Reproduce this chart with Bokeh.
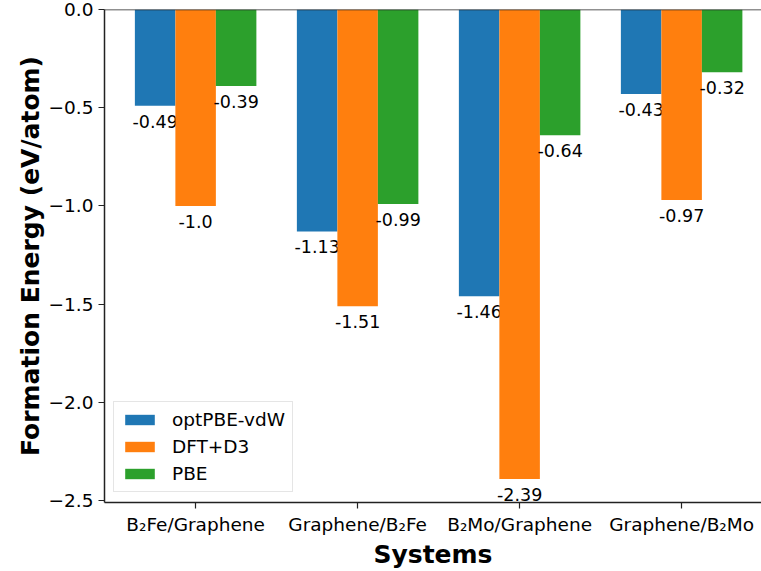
from bokeh.plotting import figure
from bokeh.models import ColumnDataSource, FixedTicker, Range1d, Legend, LegendItem, Span
from bokeh.embed import file_html
from bokeh.resources import INLINE

# Formation energies (eV/atom) for each heterostructure
systems = ["B\u2082Fe/Graphene", "Graphene/B\u2082Fe", "B\u2082Mo/Graphene", "Graphene/B\u2082Mo"]
opt_pbe_vdw = [-0.49, -1.13, -1.46, -0.43]
dft_d3 = [-1.0, -1.51, -2.39, -0.97]
pbe = [-0.39, -0.99, -0.64, -0.32]

series_names = ["optPBE-vdW", "DFT+D3", "PBE"]
series_values = [opt_pbe_vdw, dft_d3, pbe]
colors = ["#1f77b4", "#ff7f0e", "#2ca02c"]
bar_width = 0.25
offsets = [-bar_width, 0.0, bar_width]

y_ticks = [0.0, -0.5, -1.0, -1.5, -2.0, -2.5]

FONT = "DejaVu Sans"
TICK_SIZE = "18.5px"
LABEL_SIZE = "25px"

p = figure(
    width=761, height=571,
    output_backend="svg", toolbar_location=None,
    x_range=Range1d(-0.5625, 3.493), y_range=Range1d(-2.5095, 0.0),
    min_border_left=104, min_border_right=0, min_border_top=9, min_border_bottom=67,
)
p.outline_line_color = None
p.grid.visible = False
p.background_fill_color = "white"
p.border_fill_color = "white"

renderers = []
for name, vals, col, off in zip(series_names, series_values, colors, offsets):
    xs = [i + off for i in range(len(systems))]
    src = ColumnDataSource(dict(
        x=xs, top=[0.0] * len(vals), bottom=vals,
        label=[str(v) for v in vals],
    ))
    r = p.vbar(x="x", width=bar_width, top="top", bottom="bottom", source=src,
               fill_color=col, line_color=None)
    renderers.append((name, r))
    # value annotation just below each bar end
    p.text(x="x", y="bottom", text="label", source=src,
           text_align="center", text_baseline="top", y_offset=9,
           text_font={"value": FONT}, text_font_size="17.5px", text_color="black")

# top spine
p.add_layout(Span(location=0.0, dimension="width", line_color="#222222", line_width=1.5))

# axes
p.xaxis.ticker = FixedTicker(ticks=list(range(len(systems))))
p.xaxis.major_label_overrides = {i: s for i, s in enumerate(systems)}
p.yaxis.ticker = FixedTicker(ticks=y_ticks)
p.yaxis.major_label_overrides = {t: ("%.1f" % t).replace("-", "\u2212") for t in y_ticks}

for ax in (p.xaxis[0], p.yaxis[0]):
    ax.axis_line_color = "#222222"
    ax.axis_line_width = 1.5
    ax.major_tick_line_color = "#222222"
    ax.major_tick_line_width = 1.2
    ax.major_tick_out = 6
    ax.major_tick_in = 0
    ax.minor_tick_line_color = None
    ax.major_label_text_font = FONT
    ax.major_label_text_font_size = TICK_SIZE
    ax.major_label_text_color = "black"
    ax.axis_label_text_font = FONT
    ax.axis_label_text_font_size = LABEL_SIZE
    ax.axis_label_text_font_style = "bold"
    ax.axis_label_text_color = "black"

p.xaxis.axis_label = "Systems"
p.xaxis.major_label_standoff = 5
p.xaxis.axis_label_standoff = 2
p.yaxis.axis_label = "Formation Energy (eV/atom)"
p.yaxis.major_label_standoff = 5
p.yaxis.axis_label_standoff = 1

legend = Legend(
    items=[LegendItem(label=n, renderers=[r]) for n, r in renderers],
    location=(9, 10),
    glyph_width=37, glyph_height=13, label_height=21,
    label_standoff=14, spacing=6, padding=7, margin=0,
    label_text_font=FONT, label_text_font_size=TICK_SIZE, label_text_color="black",
    border_line_color="#cccccc", border_line_width=1.2,
    background_fill_color="white", background_fill_alpha=0.8,
)
p.add_layout(legend, "center")

open("out.html", "w").write(file_html(p, INLINE))
